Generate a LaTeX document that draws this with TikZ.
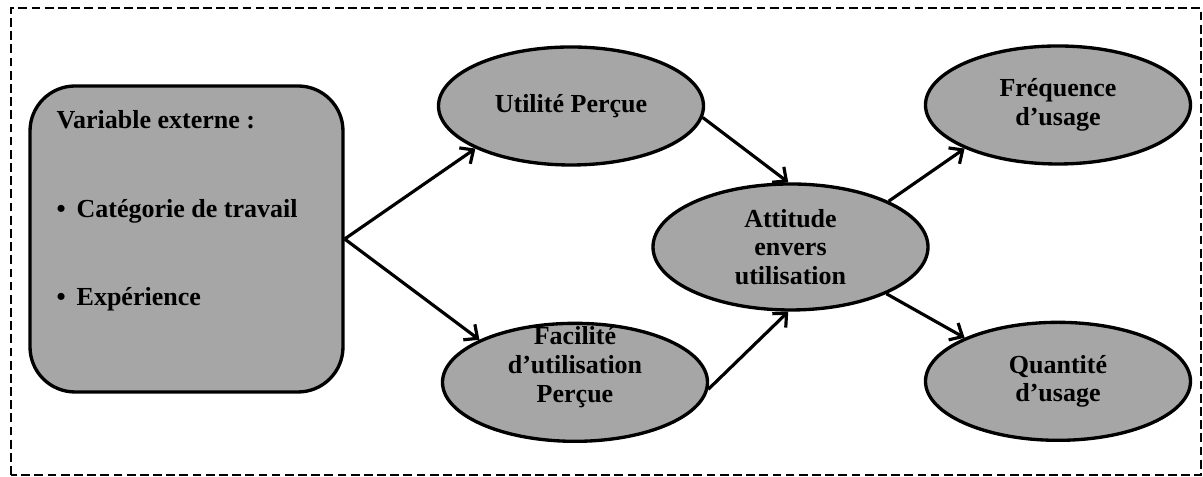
\documentclass[tikz,border=0pt]{standalone}
\usepackage{fontspec}
\setmainfont{Liberation Serif}
\usetikzlibrary{positioning,shapes.geometric,arrows.meta}
\definecolor{ovalgray}{HTML}{A6A6A6}

\begin{document}
\begin{tikzpicture}[
		node distance=3.1cm,
		every node/.style={font=\bfseries\fontsize{14.8}{16.4}\selectfont},
		oval/.style={ellipse, draw, line width=1.9pt, fill=ovalgray, minimum width=5.3cm, minimum height=2.36cm, inner sep=0pt, align=center},
		extbox/.style={rectangle, draw, line width=1.9pt, fill=ovalgray, rounded corners=0.9cm, minimum width=6.26cm, minimum height=6.12cm},
		link/.style={-{Straight Barb[length=6pt,width=11pt]}, line width=1.8pt},
	]
		\useasboundingbox (0,0) rectangle (24.06,9.54);
		\draw [line width=1.5pt, dash pattern=on 5pt off 2.5pt] (0.22,0.04) rectangle (24.02,9.38);
		
		\node [extbox] (ext) at (3.73,4.76) {};
		\node [anchor=north west, inner sep=0pt, align=left] (extlist) at ([xshift=0.56cm,yshift=-0.52cm]ext.north west) {Variable externe :\\[34pt]\makebox[0.4cm][l]{\textbullet}Catégorie de travail\\[34pt]\makebox[0.4cm][l]{\textbullet}Expérience};
		
		\node [oval] (util) at (11.42,7.42) {Utilité Perçue};
		\node [oval, below=of util, xshift=0.08cm, label={[name=facil-text, align=center, yshift=0.3cm]center:Facilité\\d’utilisation\\Perçue}] (facil) {};
		\node [oval, minimum width=5.5cm, minimum height=2.52cm] (att) at (15.81,4.6) {Attitude\\envers\\utilisation};
		\node [oval] (freq) at (21.16,7.44) {Fréquence\\d’usage};
		\node [oval, below=of freq] (quant) {Quantité\\d’usage};
		
		\draw [link] (ext.east) -- (util.204);
		\draw [link] (ext.east) -- (facil.156);
		\draw [link] (util.-5) -- (att.92);
		\draw [link] (facil.-3) -- (att.268);
		\draw [link] (att.25) -- (freq.205);
		\draw [link] (att.-26) -- (quant.155);
	\end{tikzpicture}
\end{document}
